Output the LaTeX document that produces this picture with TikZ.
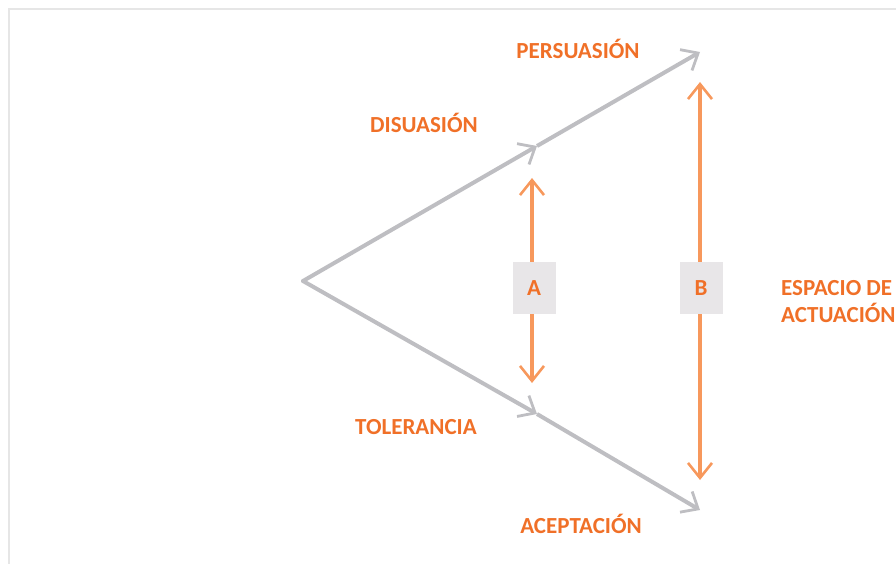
\documentclass[tikz,border=0pt]{standalone}
\usepackage{fontspec}
\setmainfont{Carlito}
\usetikzlibrary{arrows.meta}
\definecolor{framegray}{RGB}{230,230,230}
\definecolor{linegray}{RGB}{190,190,194}
\definecolor{arroworange}{RGB}{247,152,92}
\definecolor{textorange}{RGB}{240,112,40}
\definecolor{boxgray}{RGB}{232,230,232}
\tikzset{
  grayline/.style={draw=linegray, line width=4pt, -{Straight Barb[length=14pt,width=24pt,line width=2.8pt]}},
  orangearrow/.style={draw=arroworange, line width=3.6pt, {Straight Barb[length=15pt,width=24pt,line width=2.6pt]}-{Straight Barb[length=15pt,width=24pt,line width=2.6pt]}},
  lbl/.style={text=textorange, font=\bfseries\fontsize{23}{27}\selectfont, inner sep=0pt},
  letterbox/.style={fill=boxgray, minimum width=43pt, minimum height=52pt, inner sep=0pt, text=textorange, font=\bfseries\fontsize{23}{27}\selectfont},
}
\begin{document}
\begin{tikzpicture}[x=1pt,y=-1pt]
\useasboundingbox (0,0) rectangle (896,564);
\draw[framegray, line width=2.5pt] (905,9) -- (9,9) -- (9,575);
\coordinate (apex) at (303,281);
\coordinate (midU) at (537,146);
\coordinate (endU) at (700,52);
\coordinate (midL) at (537,414);
\coordinate (endL) at (700,510);
\draw[grayline, line cap=round] (apex) -- (midU);
\draw[grayline] (midU) -- (endU);
\draw[grayline, line cap=round] (apex) -- (midL);
\draw[grayline] (midL) -- (endL);
\coordinate (Atop) at (532,178);
\coordinate (Abot) at (532,383);
\coordinate (Btop) at (700,82);
\coordinate (Bbot) at (700,480);
\draw[orangearrow] (Atop) -- (Abot);
\draw[orangearrow] (Btop) -- (Bbot);
\node[letterbox] (A) at (534,288) {A};
\node[letterbox] (B) at (701,288) {B};
\node[lbl] (pers) at (578,49) {PERSUASIÓN};
\node[lbl] (dis) at (424,123) {DISUASIÓN};
\node[lbl] (tol) at (416,427) {TOLERANCIA};
\node[lbl] (acep) at (581,524) {ACEPTACIÓN};
\node[lbl, anchor=west] (esp1) at (781,288) {ESPACIO DE};
\node[lbl, anchor=west] (esp2) at (781,313) {ACTUACIÓN};
\end{tikzpicture}
\end{document}
